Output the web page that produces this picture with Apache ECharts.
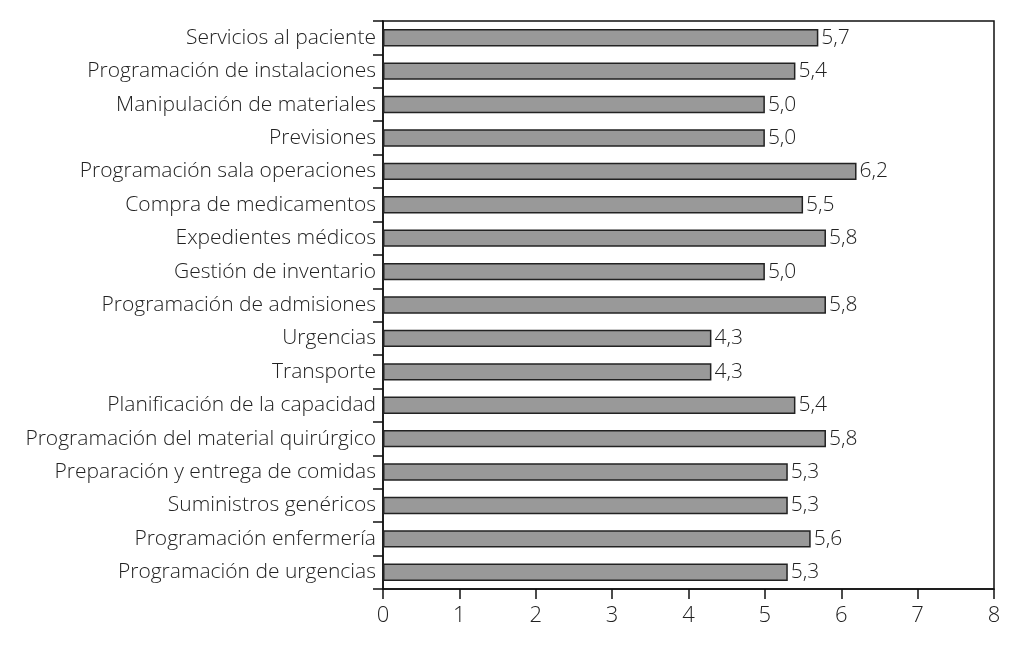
<!DOCTYPE html>
<html>
<head>
<meta charset="utf-8">
<script src="https://cdn.jsdelivr.net/npm/echarts@6/dist/echarts.min.js"></script>
<style>html,body{margin:0;padding:0;background:#fff}#c{width:1012px;height:652px}</style>
</head>
<body>
<div id="c"></div>
<script>
const categories = [
  "Servicios al paciente",
  "Programación de instalaciones",
  "Manipulación de materiales",
  "Previsiones",
  "Programación sala operaciones",
  "Compra de medicamentos",
  "Expedientes médicos",
  "Gestión de inventario",
  "Programación de admisiones",
  "Urgencias",
  "Transporte",
  "Planificación de la capacidad",
  "Programación del material quirúrgico",
  "Preparación y entrega de comidas",
  "Suministros genéricos",
  "Programación enfermería",
  "Programación de urgencias"
];
const values = [5.7, 5.4, 5.0, 5.0, 6.2, 5.5, 5.8, 5.0, 5.8, 4.3, 4.3, 5.4, 5.8, 5.3, 5.3, 5.6, 5.3];
const xTicks = [0, 1, 2, 3, 4, 5, 6, 7, 8];

const FONT = "Open Sans";
const chart = echarts.init(document.getElementById('c'), null, {renderer: 'canvas'});
chart.setOption({
  animation: false,
  backgroundColor: '#ffffff',
  grid: {left: 383, right: 18, top: 21, bottom: 63, show: true, borderColor: '#111', borderWidth: 1.5, backgroundColor: 'transparent'},
  xAxis: {
    type: 'value', min: xTicks[0], max: xTicks[xTicks.length - 1], interval: 1,
    axisLine: {show: true, lineStyle: {color: '#111', width: 1.5}},
    axisTick: {show: true, length: 10, inside: false, lineStyle: {color: '#111', width: 1.5}},
    splitLine: {show: false},
    axisLabel: {color: '#222', fontFamily: FONT, fontWeight: 300, fontSize: 22, margin: 16}
  },
  yAxis: {
    type: 'category', data: categories, inverse: true,
    axisLine: {show: true, lineStyle: {color: '#111', width: 1.5}},
    axisTick: {show: true, length: 10, alignWithLabel: false, lineStyle: {color: '#111', width: 1.5}},
    axisLabel: {color: '#222', fontFamily: FONT, fontWeight: 300, fontSize: 21, margin: 7}
  },
  series: [{
    type: 'bar', data: values, barCategoryGap: '48%',
    itemStyle: {color: '#999999', borderColor: '#222', borderWidth: 1.5},
    label: {show: true, position: 'right', distance: 3, color: '#222', fontFamily: FONT, fontWeight: 300, fontSize: 21,
      formatter: p => p.value.toFixed(1).replace('.', ',')}
  }]
});
</script>
</body>
</html>
